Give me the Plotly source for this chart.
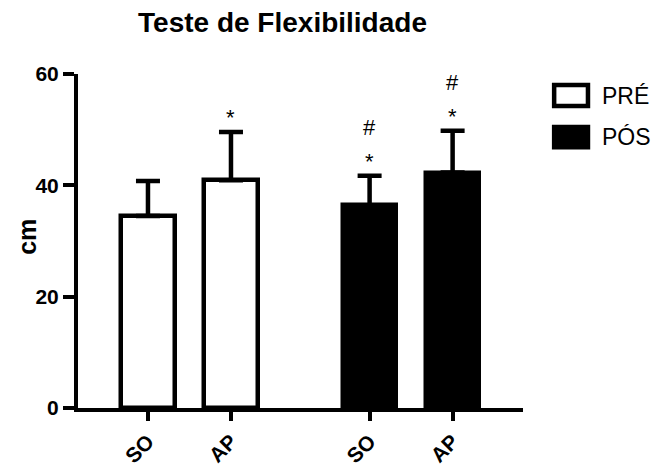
import plotly.graph_objects as go

# ---- data ----
categories = ["SO", "AP"]
groups = ["PRÉ", "PÓS"]
pre_mean = [34.5, 40.9]
pre_sd = [6.3, 8.7]
pos_mean = [36.4, 42.3]
pos_sd = [5.3, 7.5]
pre_marks = [[], ["*"]]
pos_marks = [["*", "#"], ["*", "#"]]
y_ticks = [0, 20, 40, 60]

# ---- layout constants ----
group_gap = 1.67
bar_w = 0.645
SANS = "Liberation Sans, Arial, sans-serif"

pre_x = [i for i in range(len(categories))]
pos_x = [pre_x[-1] + group_gap + i for i in range(len(categories))]

fig = go.Figure()
fig.add_trace(go.Bar(
    x=pre_x, y=pre_mean, width=bar_w, name=groups[0],
    marker=dict(color="white", line=dict(color="black", width=4.5)),
    error_y=dict(type="data", symmetric=False, array=pre_sd,
                 arrayminus=[0] * len(pre_sd), color="black", thickness=4.5, width=12),
    showlegend=False,
))
fig.add_trace(go.Bar(
    x=pos_x, y=pos_mean, width=bar_w, name=groups[1],
    marker=dict(color="black", line=dict(color="black", width=4.5)),
    error_y=dict(type="data", symmetric=False, array=pos_sd,
                 arrayminus=[0] * len(pos_sd), color="black", thickness=4.5, width=12),
    showlegend=False,
))

# significance marks
annotations = []
for xs, means, sds, marks in [(pre_x, pre_mean, pre_sd, pre_marks),
                              (pos_x, pos_mean, pos_sd, pos_marks)]:
    for x, m, s, mk in zip(xs, means, sds, marks):
        for k, sym in enumerate(mk):
            annotations.append(dict(
                x=x, y=m + s, xref="x", yref="y", text=sym, showarrow=False,
                yanchor="bottom", yshift=0 + 34 * k,
                font=dict(family=SANS, size=22, color="black"),
            ))

# custom legend
legend_rows = [(groups[0], "white", 0.967, 0.904), (groups[1], "black", 0.841, 0.781)]
shapes = []
for name, fill, y1, y0 in legend_rows:
    shapes.append(dict(type="rect", xref="paper", yref="paper",
                       x0=1.070, x1=1.146, y0=y0, y1=y1,
                       fillcolor=fill, line=dict(color="black", width=4.5)))
    annotations.append(dict(x=1.172, y=(y0 + y1) / 2, xref="paper", yref="paper",
                            text=name, showarrow=False, xanchor="left", yanchor="middle",
                            font=dict(family=SANS, size=23, color="black")))

# y-axis title
annotations.append(dict(x=-0.115, y=0.512, xref="paper", yref="paper",
                        text="<b>cm</b>", showarrow=False, textangle=-90,
                        xanchor="center", yanchor="middle",
                        font=dict(family=SANS, size=25, color="black")))

fig.update_layout(
    width=654, height=468,
    margin=dict(l=78, r=131, t=74, b=60, autoexpand=False),
    paper_bgcolor="white", plot_bgcolor="white",
    bargap=0,
    title=dict(text="<b>Teste de Flexibilidade</b>", x=0.432, xanchor="center",
               y=0.953, yanchor="middle", automargin=False,
               font=dict(family=SANS, size=28, color="black")),
    xaxis=dict(
        range=[-0.843, 4.518], tickvals=pre_x + pos_x,
        ticktext=[f"<b>{c}</b>" for c in categories] * 2,
        tickangle=-45, ticks="outside", ticklen=9, tickwidth=3.5, tickcolor="black",
        showline=True, linewidth=4, linecolor="black", showgrid=False, zeroline=False,
        tickfont=dict(family=SANS, size=21, color="black"), automargin=False,
    ),
    yaxis=dict(
        range=[0, 60], tickvals=y_ticks, ticktext=[f"<b>{v}</b>" for v in y_ticks],
        ticks="outside", ticklen=11, tickwidth=3.5, tickcolor="black",
        showline=True, linewidth=4, linecolor="black", showgrid=False, zeroline=False,
        tickfont=dict(family=SANS, size=21, color="black"), automargin=False,
    ),
    shapes=shapes,
    annotations=annotations,
)

fig.write_html("out.html", config={"displayModeBar": False},
               post_script="document.body.style.margin='0px';document.body.style.overflow='hidden';")
